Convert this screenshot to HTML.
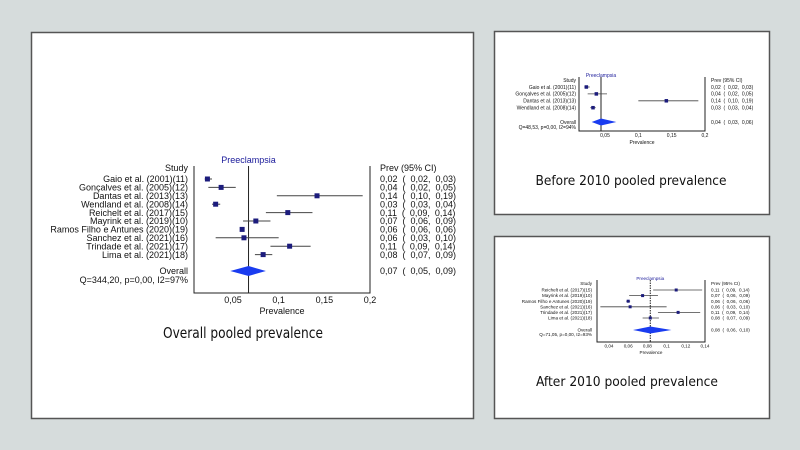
<!DOCTYPE html>
<html><head><meta charset="utf-8">
<style>
html,body{margin:0;padding:0;background:#d6dcdc;}
svg{display:block;}
text{font-family:"Liberation Sans Narrow","Liberation Sans",sans-serif;white-space:pre;}
.cap{font-family:"DejaVu Sans Condensed","Liberation Sans",sans-serif;}
</style></head>
<body>
<svg id="fig" width="800" height="450" viewBox="0 0 800 450">
  <rect x="0" y="0" width="800" height="450" fill="#d6dcdc"/>
  <rect x="31.5" y="32.5" width="442" height="386" fill="#fff" stroke="#555" stroke-width="1.5"/>
  <rect x="494.5" y="31.5" width="275" height="183" fill="#fff" stroke="#555" stroke-width="1.5"/>
  <rect x="494.5" y="236.5" width="275" height="182" fill="#fff" stroke="#555" stroke-width="1.5"/>
  <text class="cap" x="243" y="338" font-size="15" textLength="160" lengthAdjust="spacingAndGlyphs" text-anchor="middle" fill="#111">Overall pooled prevalence</text>
  <text class="cap" x="631" y="185" font-size="13.5" textLength="191" lengthAdjust="spacingAndGlyphs" text-anchor="middle" fill="#111">Before 2010 pooled prevalence</text>
  <text class="cap" x="627" y="386" font-size="13.5" textLength="182" lengthAdjust="spacingAndGlyphs" text-anchor="middle" fill="#111">After 2010 pooled prevalence</text>
  <g id="p1"></g><g id="p2"></g><g id="p3"></g>
</svg>
<script>
// ----- Overall -----
const allStudies = ["Gaio et al. (2001)(11)","Gonçalves et al. (2005)(12)","Dantas et al. (2013)(13)","Wendland et al. (2008)(14)","Reichelt et al. (2017)(15)","Mayrink et al. (2019)(10)","Ramos Filho e Antunes (2020)(19)","Sanchez et al. (2021)(16)","Trindade et al. (2021)(17)","Lima et al. (2021)(18)"];
const allEst = [0.022,0.037,0.142,0.031,0.110,0.075,0.060,0.062,0.112,0.083];
const allLow = [0.019,0.023,0.098,0.027,0.086,0.061,0.058,0.031,0.091,0.074];
const allHigh = [0.027,0.053,0.192,0.036,0.137,0.091,0.062,0.100,0.135,0.093];
const allText = ["0,02  (  0,02,  0,03)","0,04  (  0,02,  0,05)","0,14  (  0,10,  0,19)","0,03  (  0,03,  0,04)","0,11  (  0,09,  0,14)","0,07  (  0,06,  0,09)","0,06  (  0,06,  0,06)","0,06  (  0,03,  0,10)","0,11  (  0,09,  0,14)","0,08  (  0,07,  0,09)"];
const allPooled = [0.067,0.047,0.086];
const allPooledText = "0,07  (  0,05,  0,09)";
const allHet = "Q=344,20, p=0,00, I2=97%";
const allTicks = [0.05,0.1,0.15,0.2];
const allTickLabels = ["0,05","0,1","0,15","0,2"];
// ----- Before 2010 -----
const befStudies = ["Gaio et al. (2001)(11)","Gonçalves et al. (2005)(12)","Dantas et al. (2013)(13)","Wendland et al. (2008)(14)"];
const befEst = [0.022,0.037,0.142,0.032];
const befLow = [0.019,0.024,0.100,0.028];
const befHigh = [0.027,0.053,0.190,0.036];
const befText = ["0,02  (  0,02,  0,03)","0,04  (  0,02,  0,05)","0,14  (  0,10,  0,19)","0,03  (  0,03,  0,04)"];
const befPooled = [0.044,0.030,0.067];
const befPooledText = "0,04  (  0,03,  0,06)";
const befHet = "Q=48,53, p=0,00, I2=94%";
const befTicks = [0.05,0.1,0.15,0.2];
const befTickLabels = ["0,05","0,1","0,15","0,2"];
// ----- After 2010 -----
const aftStudies = ["Reichelt et al. (2017)(15)","Mayrink et al. (2019)(10)","Ramos Filho e Antunes (2020)(19)","Sanchez et al. (2021)(16)","Trindade et al. (2021)(17)","Lima et al. (2021)(18)"];
const aftEst = [0.110,0.075,0.060,0.062,0.112,0.083];
const aftLow = [0.086,0.061,0.058,0.031,0.091,0.075];
const aftHigh = [0.137,0.091,0.062,0.100,0.135,0.092];
const aftText = ["0,11  (  0,09,  0,14)","0,07  (  0,06,  0,09)","0,06  (  0,06,  0,06)","0,06  (  0,03,  0,10)","0,11  (  0,09,  0,14)","0,08  (  0,07,  0,09)"];
const aftPooled = [0.083,0.065,0.105];
const aftPooledText = "0,08  (  0,06,  0,10)";
const aftHet = "Q=71,05, p=0,00, I2=93%";
const aftTicks = [0.04,0.06,0.08,0.1,0.12,0.14];
const aftTickLabels = ["0,04","0,06","0,08","0,1","0,12","0,14"];

const NS = "http://www.w3.org/2000/svg";
function mk(parent, tag, attrs, txt){
  const e = document.createElementNS(NS, tag);
  for (const k in attrs) e.setAttribute(k, attrs[k]);
  if (txt !== undefined) e.textContent = txt;
  parent.appendChild(e);
  return e;
}
function forest(g, c, studies, est, low, high, texts, pooled, pooledText, het, ticks, tickLabels){
  const x = v => c.x0 + (v - c.v0) * (c.x1 - c.x0) / (c.v1 - c.v0);
  const y = i => c.rowY + i * c.rowH;
  const t1 = mk(g,"text",{x:x(pooled[0]),y:c.titleY,"font-size":c.fs,fill:"#1a1a9a","text-anchor":"middle"},"Preeclampsia");
  
  
  const sh = mk(g,"text",{x:c.labX,y:c.studyY,"font-size":c.fs,fill:"#111","text-anchor":"end"},"Study");
  
  
  const ph = mk(g,"text",{x:c.prevX,y:c.studyY,"font-size":c.fs,fill:"#111"},"Prev (95% CI)");
  
  
  const ax = mk(g,"path",{d:`M${c.axL},${c.studyY-5}V${c.axY}H${c.x1}V${c.studyY-5}`,fill:"none",stroke:"#222","stroke-width":1});
  
  
  const ref = mk(g,"line",{x1:x(pooled[0]),x2:x(pooled[0]),y1:c.studyY-5,y2:c.axY,stroke:"#222","stroke-width":1,"stroke-dasharray":c.dash||"none"});
  
  
  ticks.forEach((v,i)=>{
    const tl = mk(g,"text",{x:x(v),y:c.axY+c.fs+1,"font-size":c.fs,fill:"#111","text-anchor":"middle"},tickLabels[i]);
    
    
  });
  const xl = mk(g,"text",{x:(c.axL+c.x1)/2,y:c.axY+2*c.fs+3,"font-size":c.fs,fill:"#111","text-anchor":"middle"},"Prevalence");
  
  
  studies.forEach((s,i)=>{
    const yy = y(i);
    const lb = mk(g,"text",{x:c.labX,y:yy+c.fs*0.35,"font-size":c.fs,fill:"#111","text-anchor":"end"},s);
    
    
    const ci = mk(g,"line",{x1:x(low[i]),x2:x(high[i]),y1:yy,y2:yy,stroke:"#444","stroke-width":c.lw});
    
    
    const sq = mk(g,"rect",{x:x(est[i])-c.sq/2,y:yy-c.sq/2,width:c.sq,height:c.sq,fill:"#1c1c7c"});
    
    
    const pt = mk(g,"text",{x:c.prevX,y:yy+c.fs*0.35,"font-size":c.fs,fill:"#111"},texts[i]);
    
    
  });
  const oy = c.overallY;
  const ol = mk(g,"text",{x:c.labX,y:oy+c.fs*0.35,"font-size":c.fs,fill:"#111","text-anchor":"end"},"Overall");
  
  
  const hl = mk(g,"text",{x:c.labX,y:oy+c.fs*1.35,"font-size":c.fs,fill:"#111","text-anchor":"end"},het);
  
  
  const dm = mk(g,"polygon",{points:`${x(pooled[1])},${oy} ${x(pooled[0])},${oy-c.dh} ${x(pooled[2])},${oy} ${x(pooled[0])},${oy+c.dh}`,fill:"#1a3cf0"});
  
  
  const pv = mk(g,"text",{x:c.prevX,y:oy+c.fs*0.35,"font-size":c.fs,fill:"#111"},pooledText);
  
  
}
forest(document.getElementById("p1"),
  {x0:233,x1:370,v0:0.05,v1:0.2,axL:194,axY:293,titleY:163,studyY:171,rowY:179,rowH:8.4,overallY:271,labX:188,prevX:380,fs:9,sq:5,lw:1,dh:5},
  allStudies,allEst,allLow,allHigh,allText,allPooled,allPooledText,allHet,allTicks,allTickLabels);
forest(document.getElementById("p2"),
  {x0:605,x1:705,v0:0.05,v1:0.2,axL:579,axY:131,titleY:77,studyY:82,rowY:87,rowH:6.9,overallY:122,labX:576,prevX:711,fs:5,sq:3.5,lw:0.8,dh:3.5},
  befStudies,befEst,befLow,befHigh,befText,befPooled,befPooledText,befHet,befTicks,befTickLabels);
forest(document.getElementById("p3"),
  {x0:609,x1:705,v0:0.04,v1:0.14,axL:597,axY:342,titleY:280,studyY:285,rowY:290,rowH:5.6,overallY:330,labX:592,prevX:711,fs:4.6,sq:3,lw:0.8,dh:3.5,dash:"1.5,1"},
  aftStudies,aftEst,aftLow,aftHigh,aftText,aftPooled,aftPooledText,aftHet,aftTicks,aftTickLabels);
</script>
</body></html>
